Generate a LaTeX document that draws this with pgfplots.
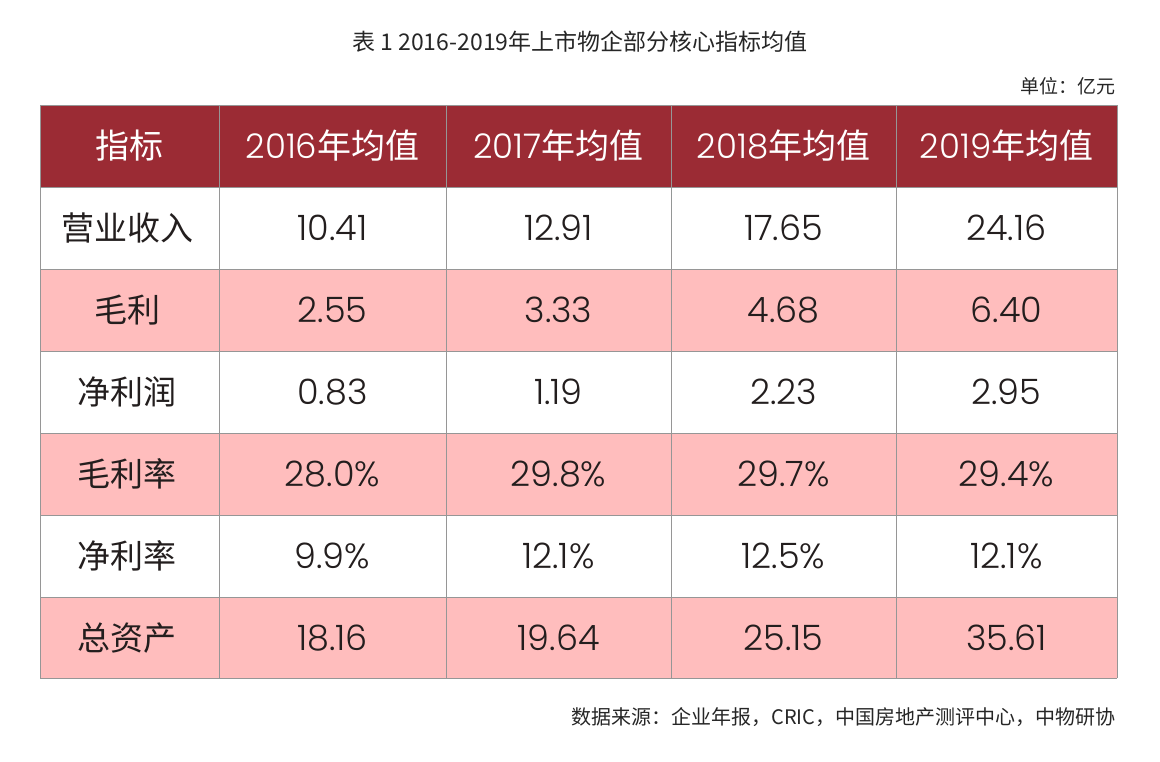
\documentclass[border=0pt]{standalone}
\usepackage{pgfplots}
\pgfplotsset{compat=1.18}
\usepackage{fontspec}
\setmainfont{Poppins Light}
\newfontfamily\cjk{Noto Sans CJK SC}
\definecolor{hdr}{RGB}{155,43,52}
\definecolor{pinkrow}{RGB}{255,189,189}
\definecolor{gridc}{RGB}{150,150,150}
\definecolor{txt}{RGB}{35,30,30}
\newcommand{\cellfont}{\fontsize{35}{38}\selectfont}
\newcommand{\labfont}{\fontsize{33}{36}\selectfont}
\newcommand{\hdrfont}{\fontsize{34}{38}\selectfont}
\begin{document}
\begin{tikzpicture}
\begin{axis}[width=1160pt,height=761pt,scale only axis,hide axis,
  xmin=0,xmax=1160,ymin=0,ymax=761,y dir=reverse,clip=false]
\path (axis cs:0,0) (axis cs:1160,761);
% header and pink rows
\addplot[fill=hdr,draw=none] coordinates {(40,105)(1117,105)(1117,187)(40,187)} -- cycle;
\addplot[fill=pinkrow,draw=none] coordinates {(40,269)(1117,269)(1117,351)(40,351)} -- cycle;
\addplot[fill=pinkrow,draw=none] coordinates {(40,433)(1117,433)(1117,515)(40,515)} -- cycle;
\addplot[fill=pinkrow,draw=none] coordinates {(40,597)(1117,597)(1117,678)(40,678)} -- cycle;
% grid lines
\addplot[gridc,line width=1pt] coordinates {(40,105)(1117,105)};
\addplot[gridc,line width=1pt] coordinates {(40,187)(1117,187)};
\addplot[gridc,line width=1pt] coordinates {(40,269)(1117,269)};
\addplot[gridc,line width=1pt] coordinates {(40,351)(1117,351)};
\addplot[gridc,line width=1pt] coordinates {(40,433)(1117,433)};
\addplot[gridc,line width=1pt] coordinates {(40,515)(1117,515)};
\addplot[gridc,line width=1pt] coordinates {(40,597)(1117,597)};
\addplot[gridc,line width=1pt] coordinates {(40,678)(1117,678)};
\addplot[gridc,line width=1pt] coordinates {(40,105)(40,678)};
\addplot[gridc,line width=1pt] coordinates {(219,105)(219,678)};
\addplot[gridc,line width=1pt] coordinates {(446,105)(446,678)};
\addplot[gridc,line width=1pt] coordinates {(671,105)(671,678)};
\addplot[gridc,line width=1pt] coordinates {(896,105)(896,678)};
\addplot[gridc,line width=1pt] coordinates {(1117,105)(1117,678)};
% title, unit, source
\node[font=\cjk\fontsize{23}{26}\selectfont,text=black!85] at (axis cs:580,42) {表 1 2016-2019年上市物企部分核心指标均值};
\node[anchor=east,font=\cjk\fontsize{19}{22}\selectfont,text=black!85] at (axis cs:1119,86) {单位：亿元};
\node[anchor=east,font=\cjk\fontsize{20}{23}\selectfont,text=black!85] at (axis cs:1119,717) {数据来源：企业年报，CRIC，中国房地产测评中心，中物研协};
% header text
\node[text=white,font=\cjk\hdrfont] at (axis cs:129.5,146) {指标};
\node[text=white,font=\hdrfont] at (axis cs:332.5,146) {2016{\cjk 年均值}};
\node[text=white,font=\hdrfont] at (axis cs:558.5,146) {2017{\cjk 年均值}};
\node[text=white,font=\hdrfont] at (axis cs:783.5,146) {2018{\cjk 年均值}};
\node[text=white,font=\hdrfont] at (axis cs:1006.5,146) {2019{\cjk 年均值}};
% row labels
\node[text=txt,font=\cjk\labfont] at (axis cs:127,228) {营业收入};
\node[text=txt,font=\cjk\labfont] at (axis cs:127,310) {毛利};
\node[text=txt,font=\cjk\labfont] at (axis cs:127,392) {净利润};
\node[text=txt,font=\cjk\labfont] at (axis cs:127,474) {毛利率};
\node[text=txt,font=\cjk\labfont] at (axis cs:127,556) {净利率};
\node[text=txt,font=\cjk\labfont] at (axis cs:127,638) {总资产};
% values
\node[text=txt,font=\cellfont] at (axis cs:332.5,228) {10.41};
\node[text=txt,font=\cellfont] at (axis cs:558.5,228) {12.91};
\node[text=txt,font=\cellfont] at (axis cs:783.5,228) {17.65};
\node[text=txt,font=\cellfont] at (axis cs:1006.5,228) {24.16};
\node[text=txt,font=\cellfont] at (axis cs:332.5,310) {2.55};
\node[text=txt,font=\cellfont] at (axis cs:558.5,310) {3.33};
\node[text=txt,font=\cellfont] at (axis cs:783.5,310) {4.68};
\node[text=txt,font=\cellfont] at (axis cs:1006.5,310) {6.40};
\node[text=txt,font=\cellfont] at (axis cs:332.5,392) {0.83};
\node[text=txt,font=\cellfont] at (axis cs:558.5,392) {1.19};
\node[text=txt,font=\cellfont] at (axis cs:783.5,392) {2.23};
\node[text=txt,font=\cellfont] at (axis cs:1006.5,392) {2.95};
\node[text=txt,font=\cellfont] at (axis cs:332.5,474) {28.0\%};
\node[text=txt,font=\cellfont] at (axis cs:558.5,474) {29.8\%};
\node[text=txt,font=\cellfont] at (axis cs:783.5,474) {29.7\%};
\node[text=txt,font=\cellfont] at (axis cs:1006.5,474) {29.4\%};
\node[text=txt,font=\cellfont] at (axis cs:332.5,556) {9.9\%};
\node[text=txt,font=\cellfont] at (axis cs:558.5,556) {12.1\%};
\node[text=txt,font=\cellfont] at (axis cs:783.5,556) {12.5\%};
\node[text=txt,font=\cellfont] at (axis cs:1006.5,556) {12.1\%};
\node[text=txt,font=\cellfont] at (axis cs:332.5,638) {18.16};
\node[text=txt,font=\cellfont] at (axis cs:558.5,638) {19.64};
\node[text=txt,font=\cellfont] at (axis cs:783.5,638) {25.15};
\node[text=txt,font=\cellfont] at (axis cs:1006.5,638) {35.61};
\end{axis}
\end{tikzpicture}
\end{document}
